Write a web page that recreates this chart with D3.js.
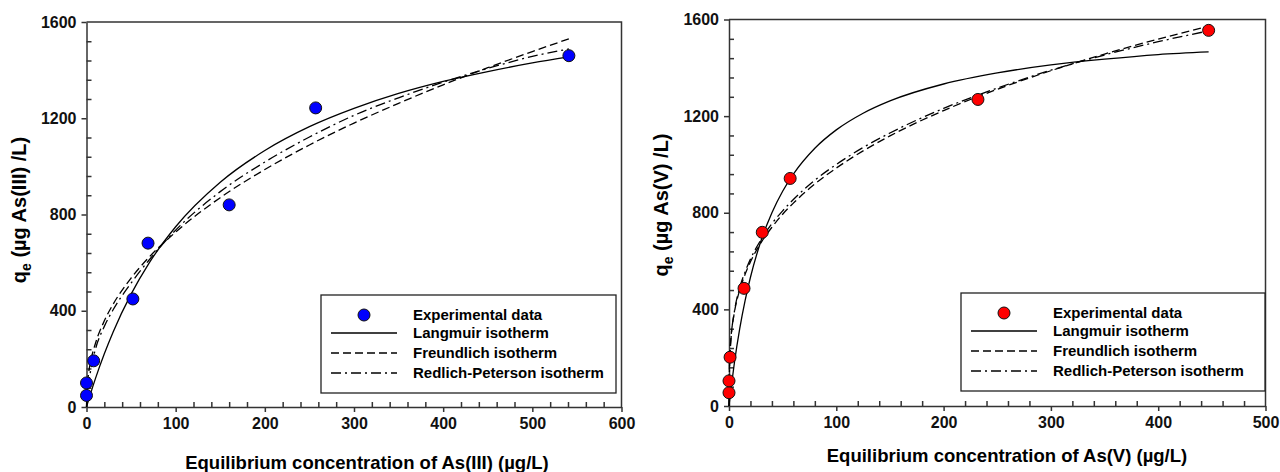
<!DOCTYPE html>
<html>
<head>
<meta charset="utf-8">
<script src="https://cdn.jsdelivr.net/npm/d3@7"></script>
<style>
    body { margin: 0; background: #fff; }
    svg { display: block; font-family: "Liberation Sans", Arial, sans-serif; }
    .tick text { font-weight: bold; }
</style>
</head>
<body>
<svg id="chart" width="1280" height="472"></svg>
<script>
// ---- As(III) panel data ----
const as3Conc = [0, 0, 8, 52, 69, 160, 257, 541];
const as3Qe = [48, 100, 192, 449, 681, 840, 1243, 1460];
const as3FitConc = [0, 0.5, 2, 5, 10, 20, 30, 50, 70, 100, 150, 200, 250, 300, 350, 400, 450, 500, 541];
const as3Langmuir = [0, 6, 25, 61, 118, 221, 313, 469, 597, 749, 934, 1066, 1165, 1241, 1303, 1353, 1394, 1430, 1455];
const as3Freundlich = [0, 71, 130, 195, 264, 358, 428, 536, 622, 727, 870, 987, 1089, 1180, 1262, 1339, 1410, 1477, 1530];
const as3Redlich = [0, 28, 80, 160, 240, 335, 405, 515, 610, 735, 895, 1018, 1122, 1212, 1285, 1350, 1407, 1457, 1488];

// ---- As(V) panel data ----
const as5Conc = [0, 0, 1, 14, 31, 57, 232, 447];
const as5Qe = [55, 104, 202, 487, 719, 942, 1269, 1555];
const as5FitConc = [0, 0.2, 0.5, 1, 2, 5, 10, 15, 20, 30, 40, 50, 60, 80, 100, 125, 150, 200, 250, 300, 350, 400, 447];
const as5Langmuir = [0, 8, 20, 39, 76, 178, 320, 436, 533, 686, 800, 889, 960, 1067, 1143, 1212, 1263, 1333, 1379, 1412, 1436, 1455, 1466];
const as5Freundlich = [0, 142, 189, 234, 291, 387, 480, 545, 597, 677, 740, 794, 840, 919, 985, 1056, 1118, 1223, 1311, 1388, 1457, 1519, 1572];
const as5Redlich = [0, 100, 160, 215, 285, 390, 490, 555, 608, 690, 755, 808, 855, 935, 1000, 1070, 1130, 1232, 1316, 1390, 1453, 1508, 1553];

const yTicks = [0, 400, 800, 1200, 1600];
const legendLabels = ["Experimental data", "Langmuir isotherm", "Freundlich isotherm", "Redlich-Peterson isotherm"];

const svg = d3.select("#chart");

const dashes = { langmuir: null, freundlich: "8,4", redlich: "10,4,2,4" };

function drawPanel(p) {
    const x = d3.scaleLinear().domain([0, p.xMax]).range([p.left, p.right]);
    const y = d3.scaleLinear().domain([0, 1600]).range([p.bottom, p.top]);
    const g = svg.append("g");

    // Frame (top and right)
    g.append("path")
        .attr("d", `M${p.left},${p.top}H${p.right}V${p.bottom}`)
        .attr("fill", "none")
        .attr("stroke", "#333")
        .attr("stroke-width", 1.5);

    // Major ticks outside, minor ticks inside
    const xAxis = g.append("g")
        .attr("transform", `translate(0,${p.bottom})`)
        .call(d3.axisBottom(x).tickValues(d3.range(0, p.xMax + 1, 100)).tickFormat(d3.format("d"))
            .tickSize(5).tickSizeOuter(0).tickPadding(6));
    xAxis.selectAll("text").style("font-size", "16px").attr("fill", "#111");
    g.append("g")
        .attr("transform", `translate(0,${p.bottom})`)
        .call(d3.axisBottom(x).tickValues(d3.range(20, p.xMax, 20).filter(v => v % 100 !== 0)).tickSize(-5).tickFormat(""))
        .call(a => a.select(".domain").remove());

    const yAxis = g.append("g")
        .attr("transform", `translate(${p.left},0)`)
        .call(d3.axisLeft(y).tickValues(yTicks).tickFormat(d3.format("d"))
            .tickSize(5).tickSizeOuter(0).tickPadding(5));
    yAxis.selectAll("text").style("font-size", "16px").attr("fill", "#111");
    g.append("g")
        .attr("transform", `translate(${p.left},0)`)
        .call(d3.axisLeft(y).tickValues(d3.range(80, 1600, 80).filter(v => v % 400 !== 0)).tickSize(-5).tickFormat(""))
        .call(a => a.select(".domain").remove());

    g.selectAll(".domain, .tick line").attr("stroke", "#333").attr("stroke-width", 1.5);

    // Axis titles
    g.append("text")
        .attr("x", p.xTitleX)
        .attr("y", p.xTitleY)
        .attr("text-anchor", "middle")
        .style("font-size", "18.5px")
        .style("font-weight", "bold")
        .text(p.xTitle);

    const yt = g.append("text")
        .attr("transform", `translate(${p.yTitleX},${p.yTitleY}) rotate(-90)`)
        .attr("text-anchor", "middle")
        .style("font-size", "20px")
        .style("font-weight", "bold");
    yt.append("tspan").text("q");
    yt.append("tspan").attr("dy", 5).style("font-size", "14px").text("e");
    yt.append("tspan").attr("dy", -5).text(p.yTitle);

    // Fitted isotherms
    const fits = [
        { vals: p.langmuir, dash: dashes.langmuir },
        { vals: p.freundlich, dash: dashes.freundlich },
        { vals: p.redlich, dash: dashes.redlich }
    ];
    const line = d3.line()
        .x(d => x(d[0]))
        .y(d => y(d[1]))
        .curve(d3.curveMonotoneX);
    fits.forEach(f => {
        g.append("path")
            .datum(p.fitConc.map((c, i) => [c, f.vals[i]]))
            .attr("d", line)
            .attr("fill", "none")
            .attr("stroke", "#000")
            .attr("stroke-width", 1.3)
            .attr("stroke-dasharray", f.dash);
    });

    // Experimental points
    g.selectAll(".pt")
        .data(p.conc.map((c, i) => [c, p.qe[i]]))
        .enter()
        .append("circle")
        .attr("cx", d => x(d[0]))
        .attr("cy", d => y(d[1]))
        .attr("r", 6)
        .attr("fill", p.color)
        .attr("stroke", "#111")
        .attr("stroke-width", 1);

    // Legend
    const lg = g.append("g").attr("transform", `translate(${p.legX},${p.legY})`);
    lg.append("rect")
        .attr("width", p.legW)
        .attr("height", 98)
        .attr("fill", "#fff")
        .attr("stroke", "#222")
        .attr("stroke-width", 1.3);
    const rowY = [20, 38, 58, 78];
    lg.append("circle")
        .attr("cx", 43)
        .attr("cy", rowY[0])
        .attr("r", 6)
        .attr("fill", p.color)
        .attr("stroke", "#111");
    fits.forEach((f, i) => {
        lg.append("line")
            .attr("x1", 10).attr("x2", 76)
            .attr("y1", rowY[i + 1]).attr("y2", rowY[i + 1])
            .attr("stroke", "#000")
            .attr("stroke-width", 1.3)
            .attr("stroke-dasharray", f.dash);
    });
    legendLabels.forEach((t, i) => {
        lg.append("text")
            .attr("x", 92)
            .attr("y", rowY[i] + 5)
            .style("font-size", "15px")
            .style("font-weight", "bold")
            .text(t);
    });
}

drawPanel({
    left: 86.5, right: 621.5, top: 22, bottom: 407, xMax: 600,
    conc: as3Conc, qe: as3Qe, color: "#0000ff",
    fitConc: as3FitConc, langmuir: as3Langmuir, freundlich: as3Freundlich, redlich: as3Redlich,
    xTitle: "Equilibrium concentration of As(III) (\u00b5g/L)", xTitleX: 367, xTitleY: 469,
    yTitle: " (\u00b5g As(III) /L)", yTitleX: 26, yTitleY: 210,
    legX: 321, legY: 295, legW: 295
});

drawPanel({
    left: 729, right: 1265.5, top: 19.5, bottom: 406, xMax: 500,
    conc: as5Conc, qe: as5Qe, color: "#ff0000",
    fitConc: as5FitConc, langmuir: as5Langmuir, freundlich: as5Freundlich, redlich: as5Redlich,
    xTitle: "Equilibrium concentration of As(V) (\u00b5g/L)", xTitleX: 1007, xTitleY: 462,
    yTitle: " (\u00b5g As(V) /L)", yTitleX: 668, yTitleY: 205,
    legX: 961, legY: 293, legW: 304
});
</script>
</body>
</html>
